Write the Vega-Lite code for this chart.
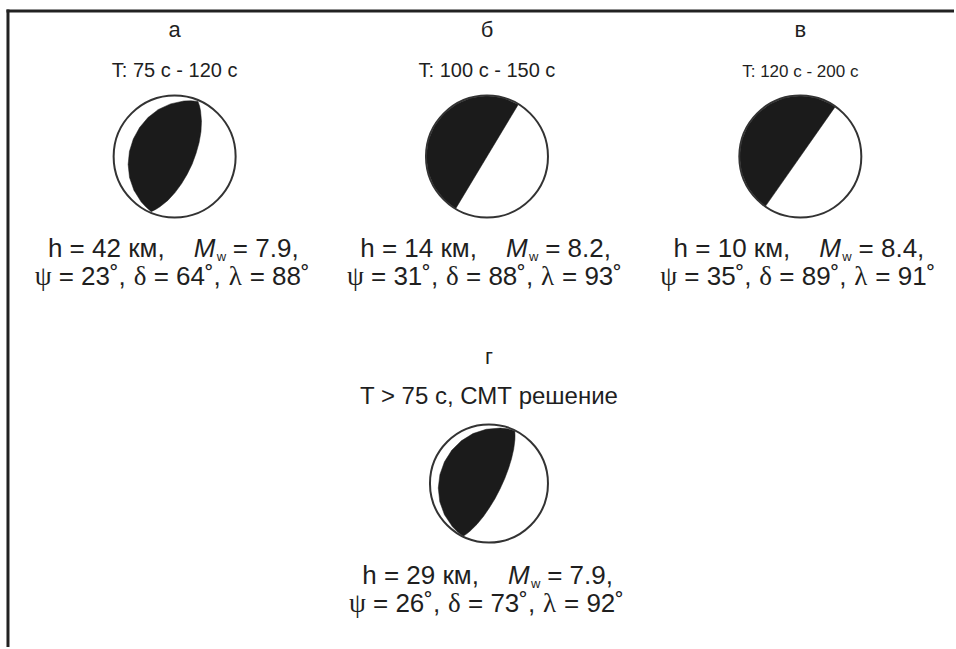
{
  "$schema": "https://vega.github.io/schema/vega-lite/v6.json",
  "width": 956,
  "height": 649,
  "autosize": {"type": "fit", "contains": "padding"},
  "padding": 0,
  "background": "white",
  "config": {
    "view": {"stroke": null},
    "text": {"font": "Liberation Sans", "color": "#1f1f1f", "baseline": "alphabetic"}
  },
  "datasets": {
    "panels": [
      {"id": "а", "cx": 175, "cy": 157, "period": "T: 75 с - 120 с", "h": "h = 42 км,", "mw": "= 7.9,", "s1": "= 23˚,", "s2": "= 64˚,", "s3": "= 88˚"},
      {"id": "б", "cx": 488, "cy": 157, "period": "T: 100 с - 150 с", "h": "h = 14 км,", "mw": "= 8.2,", "s1": "= 31˚,", "s2": "= 88˚,", "s3": "= 93˚"},
      {"id": "в", "cx": 802, "cy": 157, "period": "T: 120 с - 200 с", "h": "h = 10 км,", "mw": "= 8.4,", "s1": "= 35˚,", "s2": "= 89˚,", "s3": "= 91˚"},
      {"id": "г", "cx": 490, "cy": 485, "period": "T > 75 с, СМТ решение", "h": "h = 29 км,", "mw": "= 7.9,", "s1": "= 26˚,", "s2": "= 73˚,", "s3": "= 92˚"}
    ],
    "shapes": [
      {"id": "а", "i": 0, "x": 198.4, "y": 101.7},
      {"id": "а", "i": 1, "x": 200.0, "y": 106.5},
      {"id": "а", "i": 2, "x": 201.0, "y": 111.4},
      {"id": "а", "i": 3, "x": 201.9, "y": 121.5},
      {"id": "а", "i": 4, "x": 201.4, "y": 132.2},
      {"id": "а", "i": 5, "x": 199.5, "y": 143.0},
      {"id": "а", "i": 6, "x": 196.5, "y": 153.8},
      {"id": "а", "i": 7, "x": 192.6, "y": 164.5},
      {"id": "а", "i": 8, "x": 187.6, "y": 174.7},
      {"id": "а", "i": 9, "x": 181.9, "y": 184.3},
      {"id": "а", "i": 10, "x": 175.4, "y": 193.2},
      {"id": "а", "i": 11, "x": 168.2, "y": 201.0},
      {"id": "а", "i": 12, "x": 160.3, "y": 207.4},
      {"id": "а", "i": 13, "x": 156.0, "y": 210.1},
      {"id": "а", "i": 14, "x": 151.5, "y": 212.3},
      {"id": "а", "i": 15, "x": 146.1, "y": 207.5},
      {"id": "а", "i": 16, "x": 141.4, "y": 202.4},
      {"id": "а", "i": 17, "x": 134.2, "y": 190.8},
      {"id": "а", "i": 18, "x": 129.8, "y": 178.1},
      {"id": "а", "i": 19, "x": 128.4, "y": 164.9},
      {"id": "а", "i": 20, "x": 129.7, "y": 151.9},
      {"id": "а", "i": 21, "x": 133.6, "y": 139.4},
      {"id": "а", "i": 22, "x": 139.9, "y": 127.9},
      {"id": "а", "i": 23, "x": 148.3, "y": 117.9},
      {"id": "а", "i": 24, "x": 158.7, "y": 109.8},
      {"id": "а", "i": 25, "x": 170.9, "y": 104.2},
      {"id": "а", "i": 26, "x": 184.3, "y": 101.3},
      {"id": "а", "i": 27, "x": 191.3, "y": 101.1},
      {"id": "б", "i": 0, "x": 456.6, "y": 209.3},
      {"id": "б", "i": 1, "x": 444.9, "y": 200.1},
      {"id": "б", "i": 2, "x": 435.2, "y": 187.5},
      {"id": "б", "i": 3, "x": 429.1, "y": 172.8},
      {"id": "б", "i": 4, "x": 427.0, "y": 157.0},
      {"id": "б", "i": 5, "x": 429.1, "y": 141.2},
      {"id": "б", "i": 6, "x": 435.2, "y": 126.5},
      {"id": "б", "i": 7, "x": 444.9, "y": 113.9},
      {"id": "б", "i": 8, "x": 457.5, "y": 104.2},
      {"id": "б", "i": 9, "x": 472.2, "y": 98.1},
      {"id": "б", "i": 10, "x": 488.0, "y": 96.0},
      {"id": "б", "i": 11, "x": 503.8, "y": 98.1},
      {"id": "б", "i": 12, "x": 519.4, "y": 104.7},
      {"id": "в", "i": 0, "x": 767.0, "y": 207.0},
      {"id": "в", "i": 1, "x": 758.9, "y": 200.1},
      {"id": "в", "i": 2, "x": 749.2, "y": 187.5},
      {"id": "в", "i": 3, "x": 743.1, "y": 172.8},
      {"id": "в", "i": 4, "x": 741.0, "y": 157.0},
      {"id": "в", "i": 5, "x": 743.1, "y": 141.2},
      {"id": "в", "i": 6, "x": 749.2, "y": 126.5},
      {"id": "в", "i": 7, "x": 758.9, "y": 113.9},
      {"id": "в", "i": 8, "x": 771.5, "y": 104.2},
      {"id": "в", "i": 9, "x": 786.2, "y": 98.1},
      {"id": "в", "i": 10, "x": 802.0, "y": 96.0},
      {"id": "в", "i": 11, "x": 817.8, "y": 98.1},
      {"id": "в", "i": 12, "x": 832.5, "y": 104.2},
      {"id": "в", "i": 13, "x": 837.0, "y": 107.0},
      {"id": "г", "i": 0, "x": 515.9, "y": 432.0},
      {"id": "г", "i": 1, "x": 516.1, "y": 436.4},
      {"id": "г", "i": 2, "x": 516.0, "y": 440.9},
      {"id": "г", "i": 3, "x": 514.8, "y": 450.4},
      {"id": "г", "i": 4, "x": 512.6, "y": 460.1},
      {"id": "г", "i": 5, "x": 509.5, "y": 470.2},
      {"id": "г", "i": 6, "x": 505.7, "y": 480.3},
      {"id": "г", "i": 7, "x": 501.1, "y": 490.4},
      {"id": "г", "i": 8, "x": 496.0, "y": 500.3},
      {"id": "г", "i": 9, "x": 490.3, "y": 509.5},
      {"id": "г", "i": 10, "x": 484.4, "y": 518.1},
      {"id": "г", "i": 11, "x": 478.0, "y": 525.9},
      {"id": "г", "i": 12, "x": 471.2, "y": 532.6},
      {"id": "г", "i": 13, "x": 467.7, "y": 535.5},
      {"id": "г", "i": 14, "x": 464.1, "y": 538.0},
      {"id": "г", "i": 15, "x": 458.3, "y": 533.4},
      {"id": "г", "i": 16, "x": 453.3, "y": 528.2},
      {"id": "г", "i": 17, "x": 445.4, "y": 516.3},
      {"id": "г", "i": 18, "x": 440.7, "y": 503.3},
      {"id": "г", "i": 19, "x": 439.2, "y": 489.5},
      {"id": "г", "i": 20, "x": 440.8, "y": 476.1},
      {"id": "г", "i": 21, "x": 445.4, "y": 463.3},
      {"id": "г", "i": 22, "x": 452.7, "y": 451.7},
      {"id": "г", "i": 23, "x": 462.3, "y": 442.2},
      {"id": "г", "i": 24, "x": 474.0, "y": 434.9},
      {"id": "г", "i": 25, "x": 487.2, "y": 430.6},
      {"id": "г", "i": 26, "x": 501.4, "y": 429.4},
      {"id": "г", "i": 27, "x": 508.6, "y": 430.2}
    ]
  },
  "layer": [
    {
      "data": {"values": [{}]},
      "mark": {"type": "rule", "color": "#222222", "strokeWidth": 3},
      "encoding": {
        "x": {"datum": 6.5, "type": "quantitative", "scale": {"domain": [0, 956], "nice": false, "zero": false}, "axis": null},
        "x2": {"datum": 956},
        "y": {"datum": 11, "type": "quantitative", "scale": {"domain": [0, 649], "nice": false, "zero": false, "reverse": true}, "axis": null}
      }
    },
    {
      "data": {"values": [{}]},
      "mark": {"type": "rule", "color": "#222222", "strokeWidth": 3},
      "encoding": {
        "x": {"datum": 8, "type": "quantitative", "scale": {"domain": [0, 956], "nice": false, "zero": false}, "axis": null},
        "y": {"datum": 9.5, "type": "quantitative", "scale": {"domain": [0, 649], "nice": false, "zero": false, "reverse": true}, "axis": null},
        "y2": {"datum": 649}
      }
    },
    {
      "data": {"name": "shapes"},
      "mark": {"type": "line", "interpolate": "linear-closed", "fill": "#1b1b1b", "stroke": "#1b1b1b", "strokeWidth": 0.5},
      "encoding": {
        "x": {"field": "x", "type": "quantitative", "scale": {"domain": [0, 956], "nice": false, "zero": false}, "axis": null},
        "y": {"field": "y", "type": "quantitative", "scale": {"domain": [0, 649], "nice": false, "zero": false, "reverse": true}, "axis": null},
        "detail": {"field": "id"},
        "order": {"field": "i", "type": "quantitative"}
      }
    },
    {
      "data": {"name": "panels"},
      "mark": {"type": "point", "shape": "circle", "filled": false, "color": "#333333", "strokeWidth": 2, "opacity": 1},
      "encoding": {
        "x": {"field": "cx", "type": "quantitative", "scale": {"domain": [0, 956], "nice": false, "zero": false}, "axis": null},
        "y": {"field": "cy", "type": "quantitative", "scale": {"domain": [0, 649], "nice": false, "zero": false, "reverse": true}, "axis": null},
        "size": {"condition": {"test": "datum.id === 'г'", "value": 13924}, "value": 14884}
      }
    },
    {
      "data": {"name": "panels"},
      "mark": {"type": "text", "fontSize": 22, "align": "center", "dy": -120},
      "encoding": {
        "x": {"field": "cx", "type": "quantitative", "scale": {"domain": [0, 956], "nice": false, "zero": false}, "axis": null},
        "y": {"field": "cy", "type": "quantitative", "scale": {"domain": [0, 649], "nice": false, "zero": false, "reverse": true}, "axis": null},
        "text": {"field": "id"}
      }
    },
    {
      "data": {"name": "panels"},
      "transform": [{"filter": "datum.id === 'а' || datum.id === 'б'"}],
      "mark": {"type": "text", "fontSize": 20, "align": "center", "dy": -80},
      "encoding": {
        "x": {"field": "cx", "type": "quantitative", "scale": {"domain": [0, 956], "nice": false, "zero": false}, "axis": null},
        "y": {"field": "cy", "type": "quantitative", "scale": {"domain": [0, 649], "nice": false, "zero": false, "reverse": true}, "axis": null},
        "text": {"field": "period"}
      }
    },
    {
      "data": {"name": "panels"},
      "transform": [{"filter": "datum.id === 'в'"}],
      "mark": {"type": "text", "fontSize": 17, "align": "center", "dy": -80},
      "encoding": {
        "x": {"field": "cx", "type": "quantitative", "scale": {"domain": [0, 956], "nice": false, "zero": false}, "axis": null},
        "y": {"field": "cy", "type": "quantitative", "scale": {"domain": [0, 649], "nice": false, "zero": false, "reverse": true}, "axis": null},
        "text": {"field": "period"}
      }
    },
    {
      "data": {"name": "panels"},
      "transform": [{"filter": "datum.id === 'г'"}],
      "mark": {"type": "text", "fontSize": 24, "align": "center", "dy": -80},
      "encoding": {
        "x": {"field": "cx", "type": "quantitative", "scale": {"domain": [0, 956], "nice": false, "zero": false}, "axis": null},
        "y": {"field": "cy", "type": "quantitative", "scale": {"domain": [0, 649], "nice": false, "zero": false, "reverse": true}, "axis": null},
        "text": {"field": "period"}
      }
    },
    {
      "data": {"name": "panels"},
      "mark": {"type": "text", "fontSize": 26, "align": "right", "dx": -10, "dy": 100},
      "encoding": {
        "x": {"field": "cx", "type": "quantitative", "scale": {"domain": [0, 956], "nice": false, "zero": false}, "axis": null},
        "y": {"field": "cy", "type": "quantitative", "scale": {"domain": [0, 649], "nice": false, "zero": false, "reverse": true}, "axis": null},
        "text": {"field": "h"}
      }
    },
    {
      "data": {"name": "panels"},
      "mark": {"type": "text", "fontSize": 26, "fontStyle": "italic", "align": "left", "dx": 19, "dy": 100, "text": "M"},
      "encoding": {
        "x": {"field": "cx", "type": "quantitative", "scale": {"domain": [0, 956], "nice": false, "zero": false}, "axis": null},
        "y": {"field": "cy", "type": "quantitative", "scale": {"domain": [0, 649], "nice": false, "zero": false, "reverse": true}, "axis": null}
      }
    },
    {
      "data": {"name": "panels"},
      "mark": {"type": "text", "fontSize": 13, "align": "left", "dx": 42, "dy": 104, "text": "w"},
      "encoding": {
        "x": {"field": "cx", "type": "quantitative", "scale": {"domain": [0, 956], "nice": false, "zero": false}, "axis": null},
        "y": {"field": "cy", "type": "quantitative", "scale": {"domain": [0, 649], "nice": false, "zero": false, "reverse": true}, "axis": null}
      }
    },
    {
      "data": {"name": "panels"},
      "mark": {"type": "text", "fontSize": 26, "align": "right", "dx": 124, "dy": 100},
      "encoding": {
        "x": {"field": "cx", "type": "quantitative", "scale": {"domain": [0, 956], "nice": false, "zero": false}, "axis": null},
        "y": {"field": "cy", "type": "quantitative", "scale": {"domain": [0, 649], "nice": false, "zero": false, "reverse": true}, "axis": null},
        "text": {"field": "mw"}
      }
    },
    {
      "data": {"name": "panels"},
      "mark": {"type": "text", "font": "Liberation Serif", "fontSize": 27, "align": "left", "dx": -140, "dy": 128, "text": "ψ"},
      "encoding": {
        "x": {"field": "cx", "type": "quantitative", "scale": {"domain": [0, 956], "nice": false, "zero": false}, "axis": null},
        "y": {"field": "cy", "type": "quantitative", "scale": {"domain": [0, 649], "nice": false, "zero": false, "reverse": true}, "axis": null}
      }
    },
    {
      "data": {"name": "panels"},
      "mark": {"type": "text", "fontSize": 26, "align": "left", "dx": -116, "dy": 128},
      "encoding": {
        "x": {"field": "cx", "type": "quantitative", "scale": {"domain": [0, 956], "nice": false, "zero": false}, "axis": null},
        "y": {"field": "cy", "type": "quantitative", "scale": {"domain": [0, 649], "nice": false, "zero": false, "reverse": true}, "axis": null},
        "text": {"field": "s1"}
      }
    },
    {
      "data": {"name": "panels"},
      "mark": {"type": "text", "font": "Liberation Serif", "fontSize": 27, "align": "left", "dx": -41, "dy": 128, "text": "δ"},
      "encoding": {
        "x": {"field": "cx", "type": "quantitative", "scale": {"domain": [0, 956], "nice": false, "zero": false}, "axis": null},
        "y": {"field": "cy", "type": "quantitative", "scale": {"domain": [0, 649], "nice": false, "zero": false, "reverse": true}, "axis": null}
      }
    },
    {
      "data": {"name": "panels"},
      "mark": {"type": "text", "fontSize": 26, "align": "left", "dx": -21, "dy": 128},
      "encoding": {
        "x": {"field": "cx", "type": "quantitative", "scale": {"domain": [0, 956], "nice": false, "zero": false}, "axis": null},
        "y": {"field": "cy", "type": "quantitative", "scale": {"domain": [0, 649], "nice": false, "zero": false, "reverse": true}, "axis": null},
        "text": {"field": "s2"}
      }
    },
    {
      "data": {"name": "panels"},
      "mark": {"type": "text", "font": "Liberation Serif", "fontSize": 27, "align": "left", "dx": 54, "dy": 128, "text": "λ"},
      "encoding": {
        "x": {"field": "cx", "type": "quantitative", "scale": {"domain": [0, 956], "nice": false, "zero": false}, "axis": null},
        "y": {"field": "cy", "type": "quantitative", "scale": {"domain": [0, 649], "nice": false, "zero": false, "reverse": true}, "axis": null}
      }
    },
    {
      "data": {"name": "panels"},
      "mark": {"type": "text", "fontSize": 26, "align": "left", "dx": 75, "dy": 128},
      "encoding": {
        "x": {"field": "cx", "type": "quantitative", "scale": {"domain": [0, 956], "nice": false, "zero": false}, "axis": null},
        "y": {"field": "cy", "type": "quantitative", "scale": {"domain": [0, 649], "nice": false, "zero": false, "reverse": true}, "axis": null},
        "text": {"field": "s3"}
      }
    }
  ]
}
